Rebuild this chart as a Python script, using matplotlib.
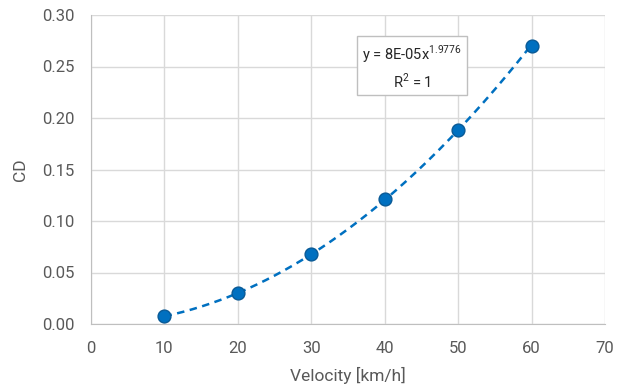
import matplotlib.pyplot as plt
import numpy as np

plt.rcParams['font.family'] = ['Roboto', 'DejaVu Sans']

velocity = [10, 20, 30, 40, 50, 60]
cd = [0.0075, 0.030, 0.068, 0.121, 0.188, 0.270]
xticks = [0, 10, 20, 30, 40, 50, 60, 70]
yticks = [0.0, 0.05, 0.10, 0.15, 0.20, 0.25, 0.30]

blue = '#0070C0'
grey = '#595959'
gridc = '#D9D9D9'

# power trendline fitted from the points (log-log)
b, lna = np.polyfit(np.log(velocity), np.log(cd), 1)
xs = np.linspace(min(velocity), max(velocity), 200)
ys = np.exp(lna) * xs ** b

fig = plt.figure(figsize=(6.35, 3.89), dpi=100)
ax = fig.add_axes([91 / 635, 1 - 324 / 389, 514 / 635, 309 / 389])

ax.plot(xs, ys, '--', color=blue, lw=1.8, dashes=(3, 2.2), zorder=2)
ax.scatter(velocity, cd, s=85, color=blue, edgecolor='#0A5A96', lw=1, zorder=3)

ax.set_xlim(0, 70)
ax.set_ylim(0, 0.30)
ax.set_xticks(xticks)
ax.set_yticks(yticks)
ax.set_yticklabels([f'{v:.2f}' for v in yticks])
ax.grid(True, color=gridc, lw=1)
ax.set_axisbelow(True)
for s in ['top', 'right']:
    ax.spines[s].set_visible(False)
for s in ['left', 'bottom']:
    ax.spines[s].set_color('#BFBFBF')
ax.tick_params(length=0, colors=grey, labelsize=12, pad=12)
ax.set_xlabel('Velocity [km/h]', color=grey, fontsize=12.5, labelpad=8)
ax.set_ylabel('CD', color=grey, fontsize=12.5, labelpad=10)

ax.text(43.7, 0.2495, 'y = 8E-05x$^{\\mathregular{1.9776}}$\nR$^{\\mathregular{2}}$ = 1',
        ha='center', va='center', fontsize=10.5, color='#262626', linespacing=1.4,
        bbox=dict(boxstyle='square,pad=0.35', fc='white', ec='#BFBFBF', lw=1))

fig.savefig('out.png', dpi=100)
